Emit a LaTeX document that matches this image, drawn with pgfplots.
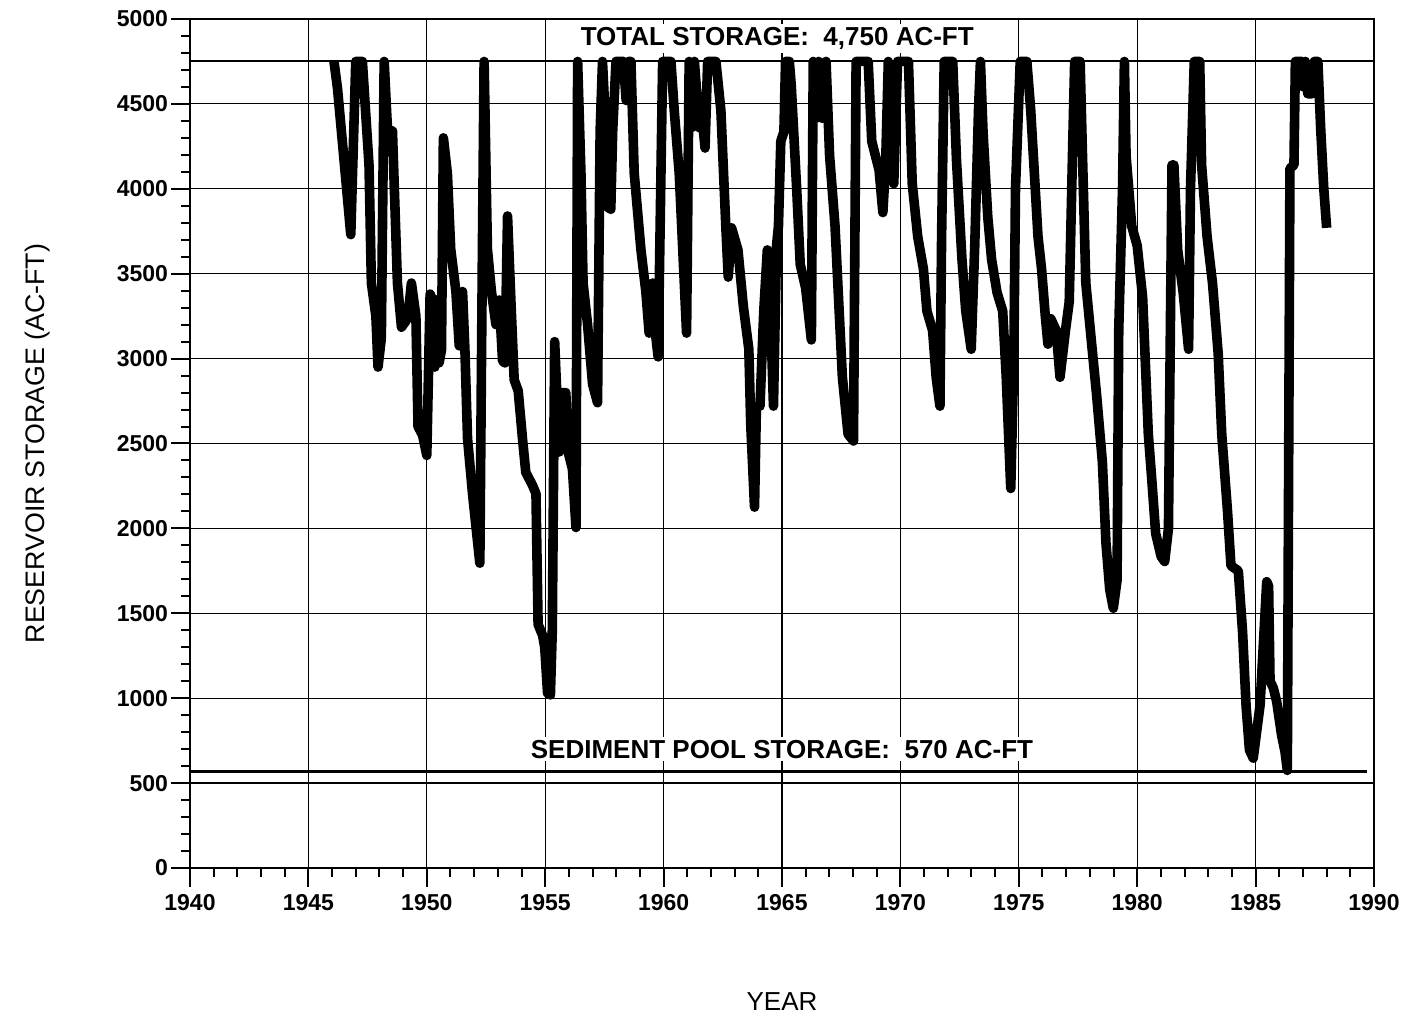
\documentclass[border=0pt]{standalone}
\usepackage{fontspec}
\setmainfont{Liberation Sans}
\usepackage{pgfplots}
\pgfplotsset{compat=1.18}
\begin{document}
\begin{tikzpicture}
\begin{axis}[
  at={(0,0)}, anchor=south west,
  scale only axis, width=592pt, height=424.5pt,
  xmin=1940, xmax=1990, ymin=0, ymax=5000,
  xtick={1940,1945,...,1990}, ytick={0,500,...,5000},
  minor x tick num=4, minor y tick num=4,
  grid=major,
  major grid style={black, line width=0.6pt},
  axis line style={black, line width=1.3pt},
  tick style={black, line width=1pt},
  major tick length=9.5pt, minor tick length=4.5pt,
  tick align=outside, tick pos=left,
  /pgf/number format/1000 sep={},
  /pgf/number format/assume math mode=true,
  tick label style={font=\bfseries\fontsize{11.5}{13}\selectfont},
  yticklabel style={xshift=2pt},
  clip=false,
]
\addplot[black, line width=1pt] coordinates {(1940,4750) (1990,4750)};
\addplot[black, line width=1.4pt] coordinates {(1940,570) (1989.7,570)};
\addplot[black, line width=4.8pt, line join=round] table {
1946.08 4750
1946.23 4590
1946.79 3730
1947.00 4750
1947.28 4750
1947.56 4140
1947.66 3445
1947.85 3250
1947.94 2950
1948.08 3120
1948.20 4750
1948.34 4350
1948.55 4340
1948.76 3445
1948.93 3185
1949.11 3220
1949.21 3250
1949.35 3445
1949.54 3250
1949.63 2600
1949.82 2550
1950.00 2430
1950.14 3380
1950.24 3345
1950.34 2950
1950.42 3345
1950.52 2975
1950.62 3050
1950.70 4300
1950.87 4090
1951.01 3645
1951.23 3395
1951.37 3075
1951.51 3395
1951.61 3050
1951.72 2530
1951.93 2205
1952.24 1795
1952.35 3670
1952.42 4750
1952.56 3645
1952.73 3395
1952.92 3200
1953.06 3345
1953.20 2985
1953.30 2975
1953.41 3840
1953.55 3345
1953.69 2875
1953.86 2810
1954.04 2530
1954.18 2330
1954.46 2255
1954.61 2205
1954.70 1435
1954.89 1370
1954.98 1300
1955.10 1030
1955.22 1020
1955.30 1400
1955.40 3100
1955.59 2450
1955.73 2800
1955.87 2800
1955.97 2450
1956.15 2350
1956.30 2005
1956.37 4750
1956.51 4090
1956.60 3445
1956.79 3200
1957.00 2850
1957.21 2740
1957.32 4340
1957.42 4750
1957.56 4340
1957.66 3890
1957.77 3880
1957.85 4340
1957.99 4750
1958.30 4750
1958.42 4520
1958.52 4750
1958.62 4750
1958.76 4090
1959.04 3645
1959.25 3395
1959.39 3150
1959.54 3445
1959.68 3120
1959.77 3010
1959.96 4750
1960.31 4750
1960.45 4460
1960.66 4090
1960.80 3670
1960.97 3150
1961.08 4750
1961.18 4360
1961.30 4750
1961.51 4360
1961.65 4390
1961.75 4240
1961.86 4750
1962.21 4750
1962.42 4460
1962.63 3770
1962.73 3480
1962.87 3770
1963.14 3640
1963.37 3305
1963.60 3055
1963.68 2610
1963.84 2125
1963.92 2720
1964.07 2720
1964.23 3280
1964.38 3640
1964.54 3165
1964.64 2720
1964.77 3665
1964.85 3780
1964.95 4280
1965.08 4335
1965.15 4750
1965.31 4750
1965.39 4610
1965.62 4000
1965.77 3555
1966.00 3415
1966.24 3110
1966.32 4750
1966.44 4415
1966.55 4750
1966.70 4415
1966.86 4750
1967.01 4195
1967.24 3780
1967.55 2890
1967.79 2555
1968.02 2515
1968.13 4750
1968.64 4750
1968.79 4280
1969.10 4110
1969.26 3860
1969.38 4165
1969.49 4750
1969.60 4555
1969.72 4030
1969.88 4750
1970.34 4750
1970.50 4030
1970.73 3720
1970.97 3530
1971.12 3280
1971.36 3165
1971.51 2890
1971.67 2720
1971.74 3720
1971.85 4750
1972.21 4750
1972.37 4165
1972.60 3585
1972.76 3280
1972.99 3055
1973.14 3665
1973.30 4470
1973.38 4750
1973.49 4335
1973.69 3835
1973.85 3585
1974.08 3390
1974.32 3280
1974.47 2890
1974.66 2235
1974.79 3000
1974.86 4000
1975.06 4750
1975.34 4750
1975.50 4470
1975.65 4110
1975.81 3720
1975.96 3530
1976.12 3250
1976.23 3085
1976.35 3235
1976.58 3165
1976.74 2890
1976.97 3165
1977.13 3335
1977.28 4280
1977.36 4750
1977.59 4750
1977.67 4305
1977.83 3445
1978.06 3110
1978.29 2780
1978.53 2390
1978.68 1915
1978.84 1640
1978.99 1530
1979.15 1695
1979.22 3165
1979.38 4000
1979.46 4750
1979.53 4195
1979.77 3780
1980.00 3665
1980.23 3360
1980.47 2555
1980.62 2280
1980.78 1970
1981.01 1835
1981.16 1805
1981.32 2000
1981.40 3165
1981.47 4140
1981.55 4140
1981.71 3640
1981.94 3390
1982.17 3055
1982.25 4000
1982.41 4750
1982.64 4750
1982.72 4140
1982.95 3720
1983.18 3445
1983.42 3030
1983.57 2555
1983.81 2110
1983.96 1780
1984.27 1750
1984.45 1390
1984.60 950
1984.74 695
1984.90 647
1985.19 960
1985.47 1686
1985.55 1660
1985.61 1100
1985.75 1060
1985.89 980
1986.10 780
1986.24 686
1986.34 575
1986.45 4120
1986.62 4140
1986.68 4750
1986.95 4750
1987.02 4600
1987.10 4750
1987.20 4560
1987.40 4560
1987.48 4750
1987.63 4750
1987.75 4350
1987.88 4000
1988.00 3770
};
\node[fill=white, inner sep=1.5pt, font=\bfseries\fontsize{13}{15}\selectfont] at (axis cs:1964.8,4885) {TOTAL STORAGE:\ \ 4,750 AC-FT};
\node[fill=white, inner sep=1.5pt, font=\bfseries\fontsize{13}{15}\selectfont] at (axis cs:1965.0,700) {SEDIMENT POOL STORAGE:\ \ 570 AC-FT};
\end{axis}
\node[rotate=90, font=\fontsize{13.4}{15}\selectfont] at (-76pt,212.25pt) {RESERVOIR STORAGE (AC-FT)};
\node[font=\fontsize{13}{15}\selectfont] at (296pt,-67pt) {YEAR};
\pgfresetboundingbox
\path[use as bounding box] (-95pt,-74.5pt) rectangle (606.5pt,434pt);
\end{tikzpicture}
\end{document}
